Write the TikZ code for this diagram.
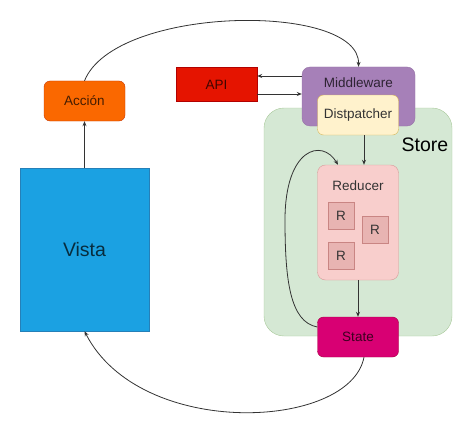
\documentclass[tikz,border=0pt]{standalone}
\usepackage{fontspec}
\setmainfont{Liberation Sans}
\usetikzlibrary{arrows.meta}
\definecolor{accfill}{HTML}{FA6800}\definecolor{accline}{HTML}{C73500}
\definecolor{apifill}{HTML}{E51400}\definecolor{apiline}{HTML}{B20000}
\definecolor{mwfill}{HTML}{A680B8}\definecolor{mwline}{HTML}{9673A6}
\definecolor{dspfill}{HTML}{FFF2CC}\definecolor{dspline}{HTML}{D6B656}
\definecolor{stofill}{HTML}{D5E8D4}\definecolor{stoline}{HTML}{A9C99B}
\definecolor{redfill}{HTML}{F8CECC}\definecolor{redline}{HTML}{D79B99}
\definecolor{rfill}{HTML}{E8B4B2}\definecolor{rline}{HTML}{C98583}
\definecolor{stafill}{HTML}{D80073}\definecolor{staline}{HTML}{A50040}
\definecolor{visfill}{HTML}{1BA1E2}\definecolor{visline}{HTML}{2580B8}
\definecolor{wire}{HTML}{333333}
\begin{document}
\begin{tikzpicture}[x=1pt, y=-1pt, every node/.style = {shape=rectangle, draw, align=center, inner sep=0pt, font=\fontsize{13.5}{16}\selectfont}]
			\tikzset{ box/.style = {minimum width=81pt, minimum height=40pt, rounded corners=6pt},
				dim/.style = {text=black, text opacity=0.72},
				txt/.style = {draw=none},
				big/.style = {font=\fontsize{19.5}{23}\selectfont},
				link/.style = {draw=wire, line width=0.8pt, -{Stealth[length=5pt, width=4pt]}} }
			\useasboundingbox (0,0) rectangle (474,436);
			% store area
			\node [fill=stofill, draw=stoline, minimum width=188pt, minimum height=228pt, rounded corners=20pt] (store) at (358,222) {};
			\node [txt, big] (storelbl) at (425,145) {Store};
			% left side
			\node [box, fill=accfill, draw=accline, dim] (accion) at (84.5,101) {Acción};
			\node [fill=visfill, draw=visline, minimum width=129pt, minimum height=163pt, big, dim] (vista) at (84.5,249.5) {Vista};
			\node [box, fill=apifill, draw=apiline, minimum height=34pt, rounded corners=0pt, dim] (api) at (216.5,84.5) {API};
			% middleware and dispatcher
			\node [fill=mwfill, draw=mwline, minimum width=113pt, minimum height=59pt, rounded corners=8pt] (mw) at (358.5,96.5) {};
			\node [txt, dim] (mwlbl) at ([yshift=-15.5pt]mw.north) {Middleware};
			\node [box, fill=dspfill, draw=dspline, text=black!80] (disp) at (358,115) {Distpatcher};
			% reducer
			\node [box, fill=redfill, draw=redline, minimum height=115pt, rounded corners=8pt] (reducer) at (358,222.5) {};
			\node [txt, text=black!80] (redlbl) at ([yshift=-21pt]reducer.north) {Reducer};
			\node [fill=rfill, draw=rline, minimum width=26pt, minimum height=27pt, text=black!80] (r1) at (341,215.5) {R};
			\node [fill=rfill, draw=rline, minimum width=26pt, minimum height=27pt, text=black!80] (r2) at (375,229.5) {R};
			\node [fill=rfill, draw=rline, minimum width=26pt, minimum height=27pt, text=black!80] (r3) at (341,256) {R};
			\node [box, fill=stafill, draw=staline, dim] (state) at (358,337) {State};
			% connectors
			\draw [link] (vista.north) -- (accion.south);
			\draw [link] (accion.north) .. controls (115,5) and (360,2) .. (mw.north);
			\draw [link] ([yshift=8.5pt]api.east -| mw.west) -- ([yshift=8.5pt]api.east);
			\draw [link] ([yshift=-9.5pt]api.east) -- ([yshift=-9.5pt]api.east -| mw.west);
			\draw [link] ([xshift=6pt]disp.south) -- ([xshift=6pt]disp.south |- reducer.north);
			\draw [link] (reducer.south) -- (state.north);
			\draw [link] ([yshift=10pt]state.west) .. controls (290,322) and (285,280) .. (285,220)
				.. controls (285,148) and (322,138) .. ([xshift=-20pt]reducer.north);
			\draw [link] ([xshift=6pt]state.south) .. controls (350,430) and (140,440) .. (vista.south);
		\end{tikzpicture}
\end{document}
